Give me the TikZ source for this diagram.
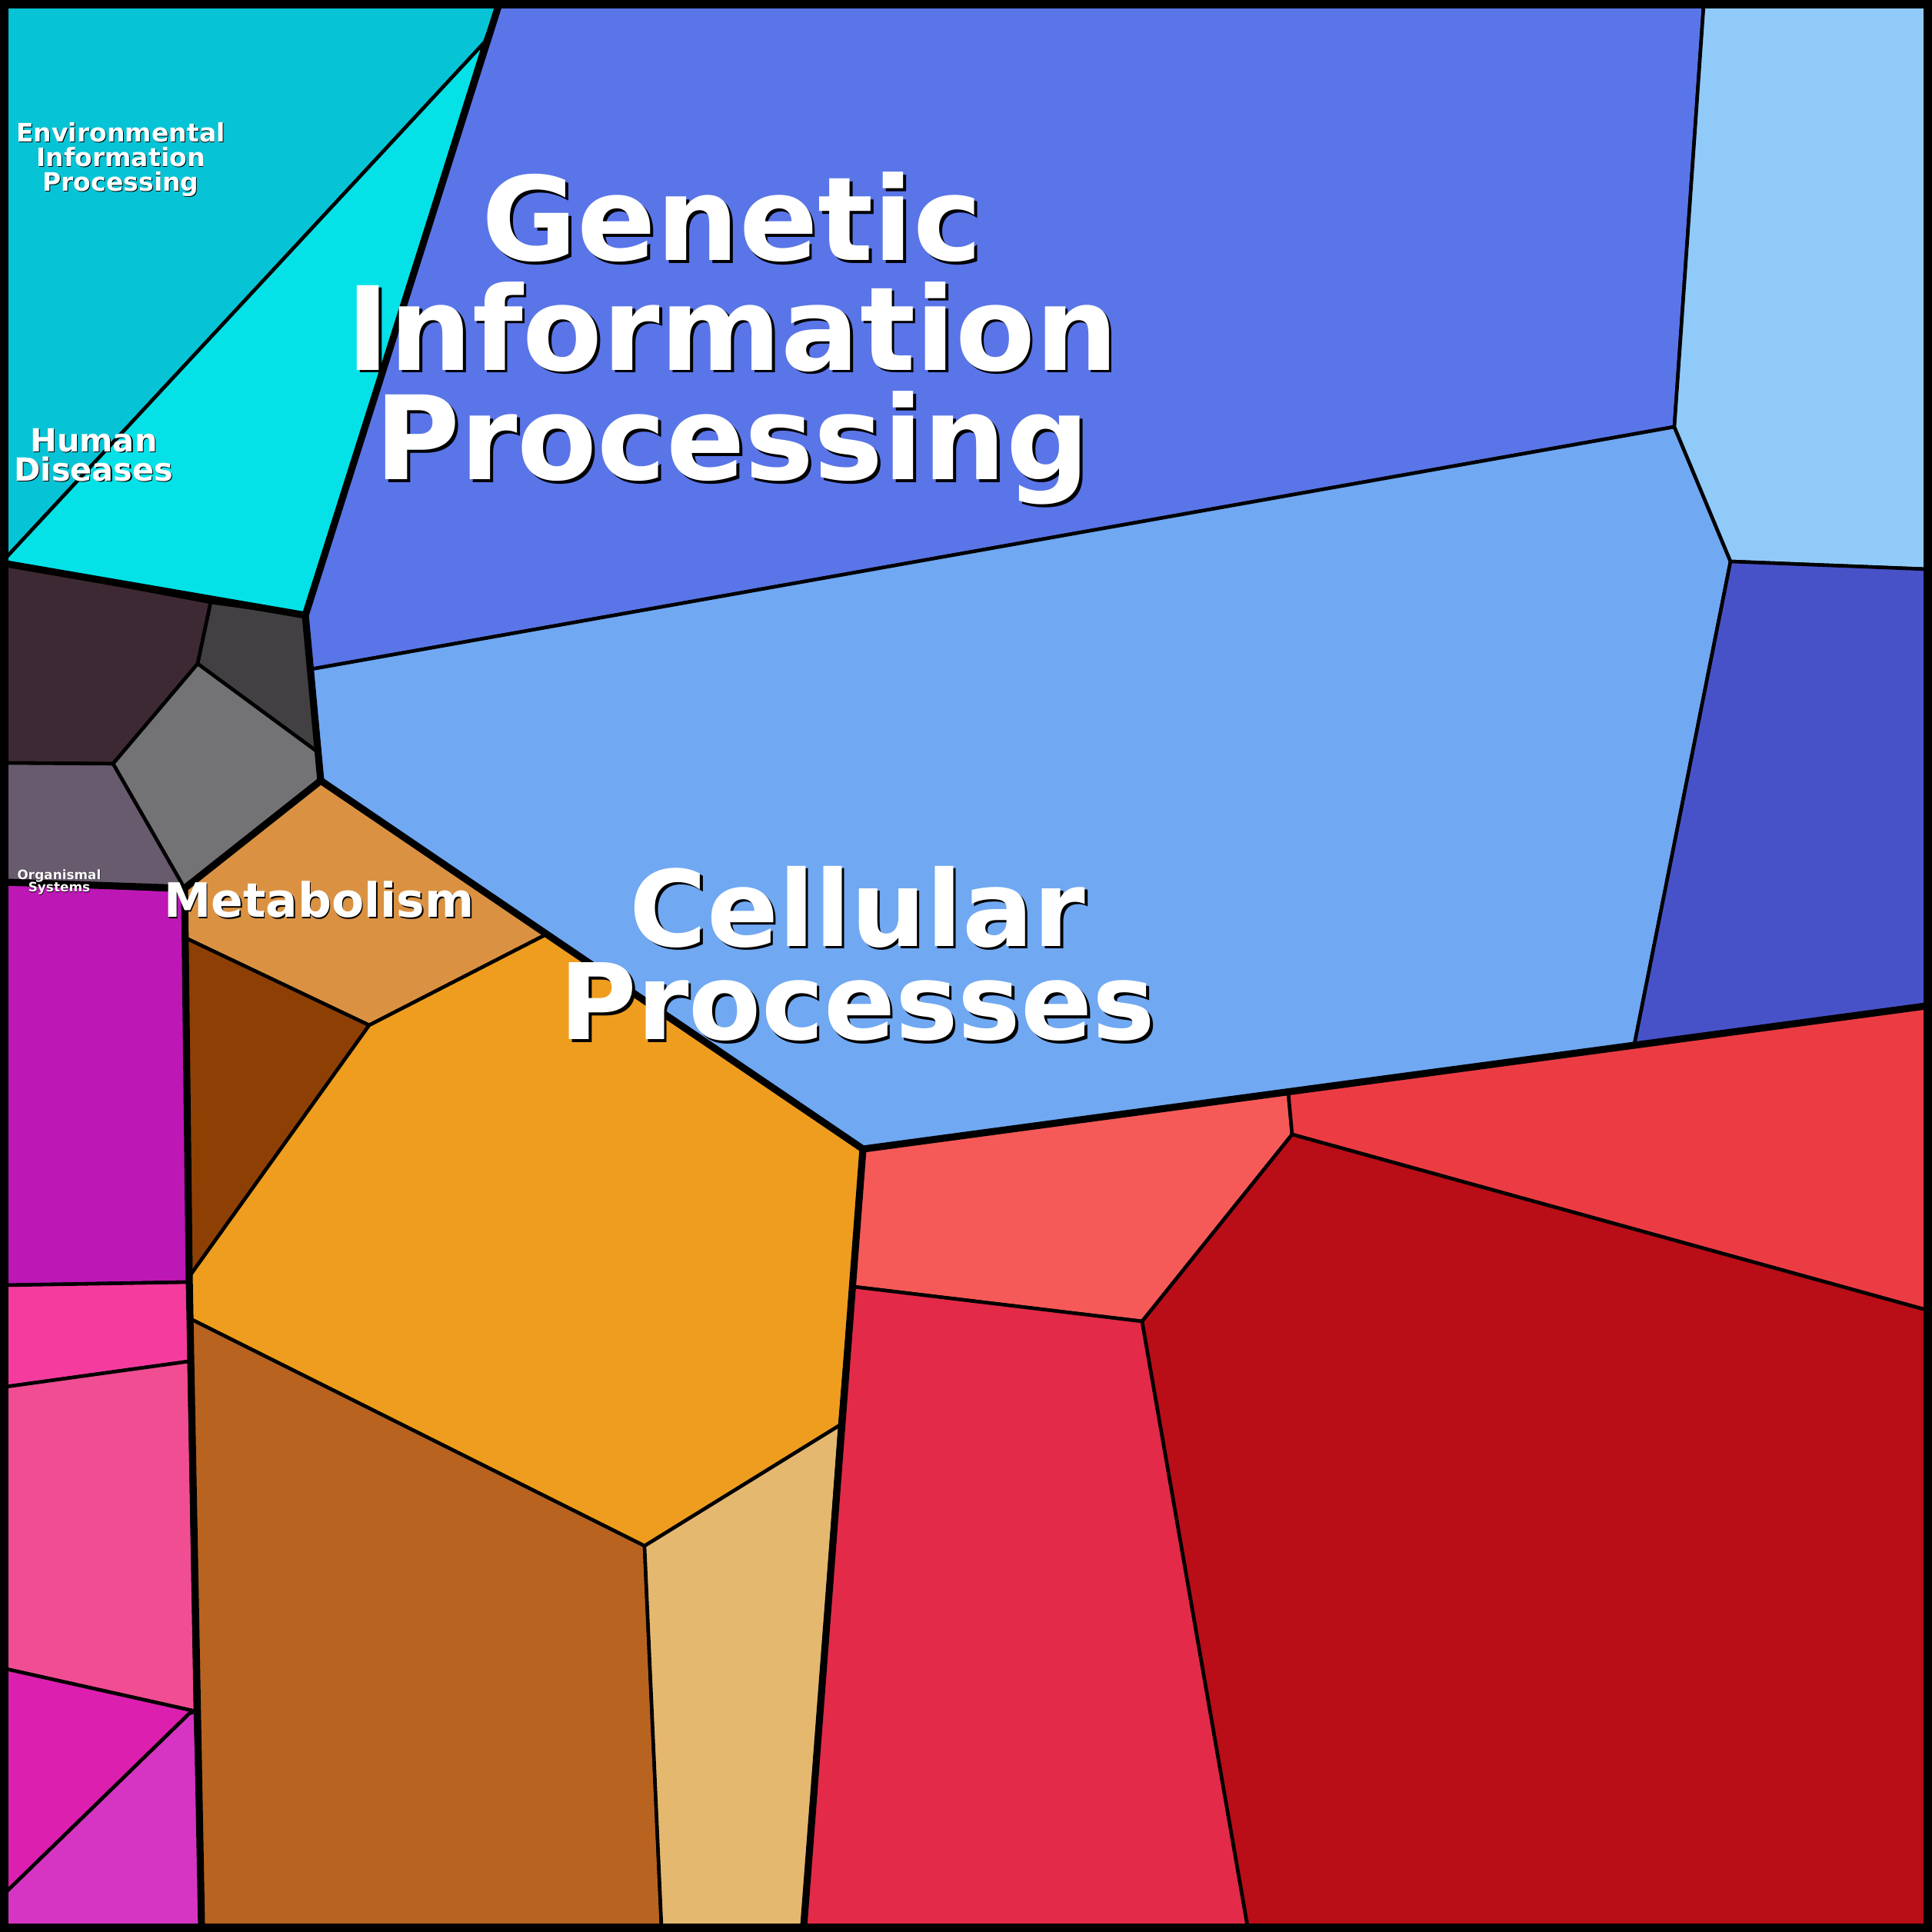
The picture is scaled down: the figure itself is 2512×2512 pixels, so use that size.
\documentclass[tikz,border=0pt]{standalone}
\usepackage{fontspec}
\setmainfont{DejaVu Sans}
\usetikzlibrary{calc}
\begin{document}
\begin{tikzpicture}[x=0.01cm,y=-0.01cm,
  cell/.style={draw=black,line width=1.3pt,line join=round},
  main/.style={draw=black,line width=2.6pt,line join=round},
  lbl/.style={align=center,text=white,inner sep=0pt}]
\useasboundingbox (0,0) rectangle (2512,2512);
\newcommand{\olab}[6]{% name, x, y, size, skip, text
  \node[lbl,text=black,font=\fontsize{#4pt}{#5pt}\selectfont\bfseries,xshift=#4*0.025pt,yshift=-#4*0.025pt] at (#2,#3) {#6};
  \node[lbl,font=\fontsize{#4pt}{#5pt}\selectfont\bfseries] (#1) at (#2,#3) {#6};}
% Environmental
\fill[cell,fill={rgb,255:red,6;green,196;blue,213}] (8,8) -- (648,8) -- (630,55) -- (8,725) -- cycle;
\fill[cell,fill={rgb,255:red,4;green,226;blue,232}] (630,55) -- (397,800) -- (8,733) -- (8,725) -- cycle;
% Genetic
\fill[cell,fill={rgb,255:red,90;green,117;blue,232}] (648,8) -- (2215,8) -- (2177,555) -- (405,870) -- (397,800) -- cycle;
\fill[cell,fill={rgb,255:red,112;green,168;blue,242}] (405,870) -- (2177,555) -- (2250,730) -- (2125,1358) -- (1122,1494) -- (417,1015) -- cycle;
\fill[cell,fill={rgb,255:red,144;green,202;blue,249}] (2215,8) -- (2504,8) -- (2504,740) -- (2250,730) -- (2177,555) -- cycle;
\fill[cell,fill={rgb,255:red,72;green,82;blue,200}] (2250,730) -- (2504,740) -- (2504,1308) -- (2125,1358) -- cycle;
% Human diseases
\fill[cell,fill={rgb,255:red,61;green,41;blue,51}] (8,733) -- (274,783) -- (257,863) -- (147,993) -- (8,992) -- cycle;
\fill[cell,fill={rgb,255:red,66;green,64;blue,66}] (274,783) -- (397,800) -- (412,977) -- (257,863) -- cycle;
\fill[cell,fill={rgb,255:red,115;green,115;blue,117}] (257,863) -- (412,977) -- (417,1015) -- (240,1155) -- (147,993) -- cycle;
\fill[cell,fill={rgb,255:red,104;green,91;blue,110}] (8,992) -- (147,993) -- (240,1155) -- (8,1147) -- cycle;
% Metabolism
\fill[cell,fill={rgb,255:red,218;green,146;blue,66}] (240,1155) -- (417,1015) -- (710,1215) -- (480,1333) -- (238,1218) -- cycle;
\fill[cell,fill={rgb,255:red,142;green,64;blue,4}] (238,1218) -- (480,1333) -- (246,1660) -- cycle;
\fill[cell,fill={rgb,255:red,238;green,157;blue,31}] (480,1333) -- (710,1215) -- (1122,1494) -- (1092,1853) -- (838,2010) -- (248,1715) -- (246,1660) -- cycle;
\fill[cell,fill={rgb,255:red,185;green,99;blue,33}] (248,1715) -- (838,2010) -- (860,2504) -- (262,2504) -- cycle;
\fill[cell,fill={rgb,255:red,229;green,184;blue,112}] (838,2010) -- (1092,1853) -- (1045,2504) -- (860,2504) -- cycle;
% Cellular
\fill[cell,fill={rgb,255:red,245;green,90;blue,88}] (1122,1494) -- (1675,1420) -- (1680,1475) -- (1485,1718) -- (1110,1673) -- cycle;
\fill[cell,fill={rgb,255:red,235;green,60;blue,68}] (1675,1420) -- (2504,1308) -- (2504,1703) -- (1680,1475) -- cycle;
\fill[cell,fill={rgb,255:red,227;green,42;blue,72}] (1110,1673) -- (1485,1718) -- (1622,2504) -- (1045,2504) -- cycle;
\fill[cell,fill={rgb,255:red,185;green,13;blue,23}] (1485,1718) -- (1680,1475) -- (2504,1703) -- (2504,2504) -- (1622,2504) -- cycle;
% Organismal
\fill[cell,fill={rgb,255:red,189;green,23;blue,181}] (8,1147) -- (240,1158) -- (245,1667) -- (8,1671) -- cycle;
\fill[cell,fill={rgb,255:red,245;green,60;blue,158}] (8,1671) -- (245,1667) -- (246,1770) -- (8,1803) -- cycle;
\fill[cell,fill={rgb,255:red,240;green,77;blue,147}] (8,1803) -- (246,1770) -- (254,2225) -- (8,2170) -- cycle;
\fill[cell,fill={rgb,255:red,221;green,31;blue,176}] (8,2170) -- (254,2225) -- (246,2228) -- (8,2460) -- cycle;
\fill[cell,fill={rgb,255:red,213;green,53;blue,194}] (8,2460) -- (246,2228) -- (254,2225) -- (262,2504) -- (8,2504) -- cycle;
% main boundaries
\draw[main] (648,8) -- (397,800) -- (8,733);
\draw[main] (397,800) -- (417,1015) -- (240,1155) -- (8,1147);
\draw[main] (417,1015) -- (1122,1494) -- (2504,1308);
\draw[main] (1122,1494) -- (1045,2504);
\draw[main] (240,1155) -- (246,1660) -- (262,2504);
\draw[line width=4.5pt] (3,3) rectangle (2509,2509);
% labels
\olab{genetic}{952}{440}{43}{40.5}{Genetic\\Information\\Processing}
\olab{cellular}{1115}{1240}{39}{34.5}{Cellular\\Processes}
\olab{metab}{415}{1170}{17.5}{17}{Metabolism}
\olab{env}{157}{208}{9.4}{9.1}{Environmental\\Information\\Processing}
\olab{human}{122}{592}{11.8}{10.8}{Human\\Diseases}
\olab{org}{77}{1147}{4.8}{4.6}{Organismal\\Systems}
\end{tikzpicture}
\end{document}
